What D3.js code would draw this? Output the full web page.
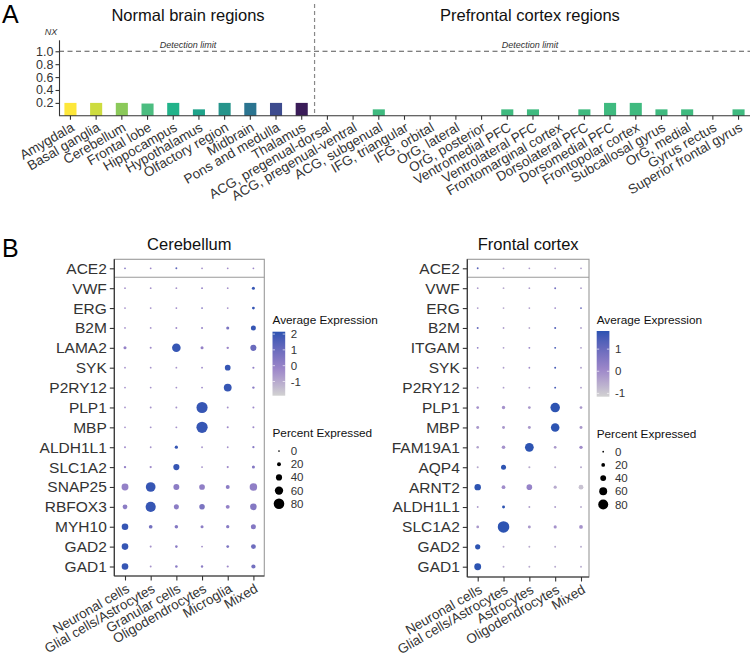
<!DOCTYPE html>
<html><head><meta charset="utf-8">
<script src="https://cdn.jsdelivr.net/npm/d3@7"></script>
<style>
html,body{margin:0;padding:0;background:#fff;}
svg{display:block;font-family:"Liberation Sans",Arial,Helvetica,sans-serif;}
</style></head>
<body>
<svg id="c" width="750" height="654"></svg>
<script>
// ---------------- Panel A data ----------------
const normalRegions = ["Amygdala","Basal ganglia","Cerebellum","Frontal lobe","Hippocampus","Hypothalamus","Olfactory region","Midbrain","Pons and medulla","Thalamus"];
const pfcRegions = ["ACG, pregenual-dorsal","ACG, pregenual-ventral","ACG, subgenual","IFG, triangular","IFG, orbital","OrG, lateral","OrG, posterior","Ventromedial PFC","Ventrolateral PFC","Frontomarginal cortex","Dorsolateral PFC","Dorsomedial PFC","Frontopolar cortex","Subcallosal gyrus","OrG, medial","Gyrus rectus","Superior frontal gyrus"];
const normalNX = [0.2,0.2,0.2,0.19,0.2,0.1,0.2,0.2,0.2,0.2];
const pfcNX = [0,0,0.1,0,0,0,0,0.1,0.1,0,0.1,0.2,0.2,0.1,0.1,0,0.1];
const nxTicks = [0.2,0.4,0.6,0.8,1.0];
const detectionLimit = 1.0;
const normalColors = ["#fde73a","#cddc3f","#8bc95a","#4cbd80","#22b38a","#1fa38a","#26948b","#2b7490","#3d4b8e","#3a1c58"];
const pfcColor = "#3fba7f";

// ---------------- Panel B data ----------------
const cbRows = ["ACE2","VWF","ERG","B2M","LAMA2","SYK","P2RY12","PLP1","MBP","ALDH1L1","SLC1A2","SNAP25","RBFOX3","MYH10","GAD2","GAD1"];
const cbCols = ["Neuronal cells","Glial cells/Astrocytes","Granular cells","Oligodendrocytes","Microglia","Mixed"];
const cbPct = [
 [1,1,2,1,1,1],
 [1,1,1,1,1,12],
 [1,1,1,1,1,10],
 [1,1,2,2,12,30],
 [12,3,62,12,6,40],
 [1,1,1,1,36,4],
 [1,1,1,1,55,6],
 [1,2,2,85,2,3],
 [1,2,2,86,3,3],
 [2,1,14,1,1,5],
 [6,5,40,2,4,12],
 [47,72,38,36,20,52],
 [28,76,30,34,20,44],
 [44,18,16,12,14,30],
 [44,3,8,2,10,28],
 [44,2,8,6,4,22]
];
const cbExp = [
 [0.3,-0.2,1.2,-0.4,-0.4,-0.2],
 [-0.5,-0.5,-0.5,0,-0.5,2.0],
 [-0.5,-0.5,-0.3,0.3,-0.5,2.0],
 [-0.5,-0.5,-0.3,0,0.6,2.0],
 [0,-0.3,2.0,0,-0.2,1.0],
 [-0.5,-0.5,-0.5,-0.3,2.0,0],
 [-0.5,-0.5,-0.5,-0.3,2.0,0.2],
 [-0.5,-0.5,-0.5,2.0,-0.5,-0.3],
 [-0.5,-0.5,-0.5,2.0,-0.3,-0.3],
 [-0.3,-0.5,2.0,-0.5,-0.5,0.3],
 [0,-0.3,2.0,-0.5,-0.3,0.4],
 [0,2.0,0.2,0.1,0.2,0.1],
 [0.2,2.0,0.2,0.6,0,0.4],
 [2.0,0.8,0.4,0.2,0.3,0.4],
 [2.0,-0.5,0.2,-0.5,0.5,0.9],
 [2.0,-0.5,0.2,0.2,-0.3,0.8]
];
const cbExpTicks = [2,1,0,-1];

const fcRows = ["ACE2","VWF","ERG","B2M","ITGAM","SYK","P2RY12","PLP1","MBP","FAM19A1","AQP4","ARNT2","ALDH1L1","SLC1A2","GAD2","GAD1"];
const fcCols = ["Neuronal cells","Glial cells/Astrocytes","Astrocytes","Oligodendrocytes","Mixed"];
const fcPct = [
 [2,1,1,1,1],
 [1,1,1,2,1],
 [1,1,1,1,2],
 [3,1,1,3,1],
 [1,1,2,2,1],
 [1,1,1,2,1],
 [1,1,1,2,1],
 [10,16,10,75,10],
 [12,12,12,66,12],
 [8,18,68,10,16],
 [3,32,4,3,3],
 [46,20,38,14,30],
 [2,12,2,2,2],
 [10,95,12,14,20],
 [34,2,2,2,2],
 [50,2,2,2,2]
];
const fcExp = [
 [1.2,-0.3,-0.3,-0.3,-0.3],
 [-0.3,-0.5,-0.3,0.8,-0.3],
 [-0.3,-0.5,-0.3,0,1],
 [1,-0.3,-0.5,1.3,-0.3],
 [0.3,-0.3,0.2,1.5,-0.3],
 [0,-0.3,0,1.5,-0.3],
 [-0.3,-0.3,-0.3,1.5,-0.3],
 [-0.1,-0.1,-0.2,1.8,-0.2],
 [-0.2,-0.2,-0.2,1.8,-0.2],
 [-0.4,-0.1,1.8,-0.2,0],
 [-0.5,1.8,-0.5,-0.5,-0.5],
 [1.8,0,0.2,-0.5,-0.9],
 [-0.3,1.8,-0.3,-0.3,-0.5],
 [-0.2,1.8,-0.2,-0.1,-0.1],
 [1.8,-0.5,-0.5,-0.5,-0.5],
 [1.8,-0.5,-0.5,-0.5,-0.5]
];
const fcExpTicks = [1,0,-1];
const pctTicks = [0,20,40,60,80];

// ---------------- Drawing ----------------
const svg = d3.select("#c");
const FONT = '"Liberation Sans",Arial,Helvetica,sans-serif';
const txtCol = "#333";

svg.append("text").attr("x",2).attr("y",23).attr("font-size",25).text("A");
svg.append("text").attr("x",2).attr("y",257).attr("font-size",25).text("B");

// ===== Panel A =====
const allRegions = normalRegions.concat(pfcRegions);
const allNX = normalNX.concat(pfcNX);
const xA = d3.scaleBand().domain(allRegions).range([57.6, 751.4]).paddingInner(0.53).paddingOuter(0.265);
const yA = d3.scaleLinear().domain([0, 1.17]).range([115.8, 40.3]);
const gA = svg.append("g");

gA.append("text").attr("x",188).attr("y",21).attr("text-anchor","middle").attr("font-size",16.5).attr("fill","#111").text("Normal brain regions");
gA.append("text").attr("x",530).attr("y",21).attr("text-anchor","middle").attr("font-size",16.5).attr("fill","#111").text("Prefrontal cortex regions");

const sepX = (xA(normalRegions[normalRegions.length-1]) + xA(pfcRegions[0]) + xA.bandwidth())/2;
gA.append("line").attr("x1",sepX).attr("x2",sepX).attr("y1",4).attr("y2",yA(0))
  .attr("stroke","#888").attr("stroke-width",1.2).attr("stroke-dasharray","4,3");

gA.append("line").attr("x1",59).attr("x2",750).attr("y1",yA(detectionLimit)).attr("y2",yA(detectionLimit))
  .attr("stroke","#555").attr("stroke-width",1.1).attr("stroke-dasharray","5,3.5");
gA.append("text").attr("x",188).attr("y",48).attr("text-anchor","middle").attr("font-size",9).attr("font-style","italic").attr("fill",txtCol).text("Detection limit");
gA.append("text").attr("x",530).attr("y",48).attr("text-anchor","middle").attr("font-size",9).attr("font-style","italic").attr("fill",txtCol).text("Detection limit");

gA.append("text").attr("x",51).attr("y",35).attr("text-anchor","middle").attr("font-size",9).attr("font-style","italic").attr("fill",txtCol).text("NX");

gA.selectAll("rect.bar").data(allRegions).join("rect").attr("class","bar")
  .attr("x", d => xA(d)).attr("width", xA.bandwidth())
  .attr("y", (d,i) => yA(allNX[i])).attr("height", (d,i) => yA(0) - yA(allNX[i]))
  .attr("fill", (d,i) => i < normalRegions.length ? normalColors[i] : pfcColor);

const yAxisA = gA.append("g").attr("transform","translate(59.5,0)")
  .call(d3.axisLeft(yA).tickValues(nxTicks).tickFormat(d3.format(".1f")).tickSize(4).tickPadding(2));
yAxisA.select(".domain").remove();
yAxisA.append("line").attr("x1",0).attr("x2",0).attr("y1",40.3).attr("y2",yA(0)).attr("stroke","#333").attr("stroke-width",1.1);
yAxisA.selectAll(".tick line").attr("stroke","#333").attr("stroke-width",1.1);
yAxisA.selectAll(".tick text").attr("font-size",12.5).attr("font-family",FONT).attr("fill",txtCol);

const xAxisA = gA.append("g").attr("transform",`translate(0,${yA(0)})`)
  .call(d3.axisBottom(xA).tickSize(4).tickSizeOuter(0));
xAxisA.select(".domain").remove();
xAxisA.append("line").attr("x1",59).attr("x2",750).attr("y1",0).attr("y2",0).attr("stroke","#333").attr("stroke-width",1.1);
xAxisA.selectAll(".tick line").attr("stroke","#333").attr("stroke-width",1.1);
xAxisA.selectAll(".tick text")
  .attr("font-size",13.5).attr("font-family",FONT).attr("fill",txtCol)
  .attr("text-anchor","end").attr("dy","0.71em").attr("y",6)
  .attr("transform","rotate(-30 0 6)");

// ===== Panel B =====
function dotPlot(cfg) {
  const g = svg.append("g");
  const yS = d3.scalePoint().domain(cfg.rows).range([cfg.rowTop, cfg.rowBot]);
  const xS = d3.scalePoint().domain(cfg.cols).range([cfg.colL, cfg.colR]);
  const [eMin, eMax] = cfg.expDomain;
  const t = d3.scaleLinear().domain([eMin, eMax]).range([0,1]).clamp(true);
  const interp = d3.scaleLinear().domain([0,0.42,1]).range(["#d2d2d2","#9c86c9","#2b53b2"]).interpolate(d3.interpolateLab);
  const color = e => interp(t(e));
  const rS = d3.scaleLinear().domain([0,80]).range([0.85, cfg.r80]);

  g.append("text").attr("x",(cfg.boxL+cfg.boxR)/2).attr("y",250).attr("text-anchor","middle")
    .attr("font-size",16.5).attr("fill","#111").text(cfg.title);
  g.append("rect").attr("x",cfg.boxL).attr("y",cfg.boxT).attr("width",cfg.boxR-cfg.boxL).attr("height",cfg.boxB-cfg.boxT)
    .attr("fill","none").attr("stroke","#9a9a9a").attr("stroke-width",1.1);
  const sy = (yS(cfg.rows[0]) + yS(cfg.rows[1]))/2 - 1;
  g.append("line").attr("x1",cfg.boxL).attr("x2",cfg.boxR).attr("y1",sy).attr("y2",sy).attr("stroke","#9a9a9a").attr("stroke-width",1.1);

  const cells = [];
  cfg.rows.forEach((r,i) => cfg.cols.forEach((c,j) => cells.push({r, c, p: cfg.pct[i][j], e: cfg.exp[i][j]})));
  g.selectAll("circle.dot").data(cells).join("circle").attr("class","dot")
    .attr("cx", d => xS(d.c)).attr("cy", d => yS(d.r)).attr("r", d => rS(d.p))
    .attr("fill", d => color(d.e));

  const ya = g.append("g").attr("transform",`translate(${cfg.boxL},0)`)
    .call(d3.axisLeft(yS).tickSize(4.5).tickPadding(3));
  ya.select(".domain").remove();
  ya.append("line").attr("x1",0).attr("x2",0).attr("y1",cfg.boxT).attr("y2",cfg.boxB).attr("stroke","#333").attr("stroke-width",1.2);
  ya.selectAll(".tick line").attr("stroke","#333").attr("stroke-width",1.1);
  ya.selectAll(".tick text").attr("font-size",cfg.rowFont).attr("font-family",FONT).attr("fill",txtCol);

  const xa = g.append("g").attr("transform",`translate(0,${cfg.boxB})`)
    .call(d3.axisBottom(xS).tickSize(4.5).tickSizeOuter(0));
  xa.select(".domain").remove();
  xa.append("line").attr("x1",cfg.boxL).attr("x2",cfg.boxR).attr("y1",0).attr("y2",0).attr("stroke","#333").attr("stroke-width",1.2);
  xa.selectAll(".tick line").attr("stroke","#333").attr("stroke-width",1.1);
  xa.selectAll(".tick text")
    .attr("font-size",13.5).attr("font-family",FONT).attr("fill",txtCol)
    .attr("text-anchor","end").attr("dy","0.71em").attr("y",7)
    .attr("transform","rotate(-30 0 7)");

  const L = cfg.legX;
  g.append("text").attr("x",L).attr("y",324).attr("font-size",11.8).attr("fill","#111").text("Average Expression");
  const barT = cfg.barTop, barB = cfg.barBot, barW = 12.7;
  const yL = d3.scaleLinear().domain([eMin, eMax]).range([barB, barT]);
  const gid = "grad" + cfg.id;
  const grad = svg.append("defs").append("linearGradient").attr("id",gid)
    .attr("x1",0).attr("x2",0).attr("y1",1).attr("y2",0);
  d3.range(0,1.0001,0.05).forEach(s => grad.append("stop").attr("offset",s).attr("stop-color",interp(s)));
  g.append("rect").attr("x",L).attr("y",barT).attr("width",barW).attr("height",barB-barT).attr("fill",`url(#${gid})`);
  cfg.expTicks.forEach(v => {
    const yy = yL(v);
    g.append("line").attr("x1",L).attr("x2",L+2.5).attr("y1",yy).attr("y2",yy).attr("stroke","#fff").attr("stroke-width",0.8).attr("opacity",0.8);
    g.append("line").attr("x1",L+barW-2.5).attr("x2",L+barW).attr("y1",yy).attr("y2",yy).attr("stroke","#fff").attr("stroke-width",0.8).attr("opacity",0.8);
    g.append("text").attr("x",L+barW+5.5).attr("y",yy).attr("dy","0.35em").attr("font-size",11.5).attr("fill",txtCol).text(v);
  });

  g.append("text").attr("x",L).attr("y",cfg.pTitleY).attr("font-size",11.8).attr("fill","#111").text("Percent Expressed");
  pctTicks.forEach((v,k) => {
    const yy = cfg.pY0 + k*13.2;
    g.append("circle").attr("cx",L+6.5).attr("cy",yy).attr("r",rS(v)).attr("fill","#000");
    g.append("text").attr("x",L+barW+5.5).attr("y",yy).attr("dy","0.35em").attr("font-size",11.5).attr("fill",txtCol).text(v);
  });
}

dotPlot({id:"cb", title:"Cerebellum", rows:cbRows, cols:cbCols, pct:cbPct, exp:cbExp,
  boxL:114.3, boxR:264.3, boxT:259.3, boxB:576, rowTop:268.3, rowBot:566.5, colL:125, colR:253.4,
  expDomain:[-1.9,2.15], expTicks:cbExpTicks, r80:5.3, rowFont:15.5,
  legX:272.5, barTop:331.7, barBot:395.7, pTitleY:437, pY0:451});

dotPlot({id:"fc", title:"Frontal cortex", rows:fcRows, cols:fcCols, pct:fcPct, exp:fcExp,
  boxL:467.3, boxR:589, boxT:259.3, boxB:577, rowTop:268.3, rowBot:566.7, colL:477.7, colR:581,
  expDomain:[-1.15,1.82], expTicks:fcExpTicks, r80:5.0, rowFont:15.5,
  legX:596.7, barTop:331, barBot:396.7, pTitleY:438, pY0:451.7});
</script>
</body></html>
